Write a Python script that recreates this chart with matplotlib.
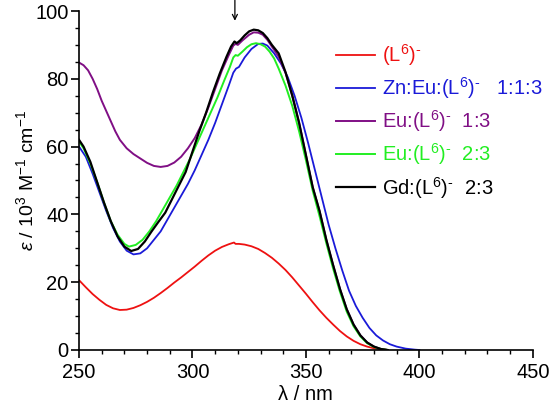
import matplotlib
matplotlib.use("Agg")
import matplotlib.pyplot as plt
from matplotlib.ticker import MultipleLocator

plt.rcParams['font.family'] = ['Liberation Sans', 'DejaVu Sans']
plt.rcParams['mathtext.fontset'] = 'custom'
plt.rcParams['mathtext.rm'] = 'Liberation Sans'
plt.rcParams['mathtext.it'] = 'Liberation Sans:italic'

# ---- data ----
red_x = [250, 253, 256, 259, 262, 265, 268, 271, 274, 277, 280, 283, 286, 289, 292, 295, 298, 301, 304, 307,
         310, 313, 316, 318.3, 319, 320.5, 323, 326, 329, 332, 335, 338, 341, 344, 347, 350, 353, 356, 359,
         362, 365, 368, 371, 374, 377, 380, 383, 386]
red_y = [20.6, 18.5, 16.5, 14.8, 13.3, 12.3, 11.8, 11.9, 12.4, 13.2, 14.2, 15.4, 16.8, 18.3, 19.9, 21.4, 23.0,
         24.6, 26.3, 27.9, 29.3, 30.4, 31.2, 31.7, 31.3, 31.3, 31.1, 30.6, 29.8, 28.6, 27.2, 25.5, 23.6, 21.4,
         19.0, 16.6, 14.1, 11.7, 9.5, 7.5, 5.6, 4.0, 2.7, 1.7, 1.0, 0.5, 0.2, 0.0]

blue_x = [250, 253, 256, 259, 262, 265, 268, 271, 274, 277, 280, 283, 286, 289, 292, 295, 298, 301, 304, 307,
          310, 313, 316, 318, 319.2, 320.5, 323, 326, 329, 331, 333, 336, 339, 342, 345, 348, 351, 354, 357,
          360, 363, 366, 369, 372, 375, 378, 381, 384, 387, 390, 394, 398, 400]
blue_y = [60, 57, 52, 46.5, 41, 36, 32, 29.3, 28.2, 28.5, 30, 32.5, 35, 38.5, 42, 45.5, 49, 53, 57.5, 62,
          67, 72.5, 78, 81.8, 83, 83.5, 86.3, 88.8, 90.3, 90.4, 89.8, 87.5, 84.5, 80.5, 75, 68.5, 61, 53, 45,
          37, 30, 23.5, 17.5, 13, 9.5, 6.5, 4.3, 2.8, 1.7, 1.0, 0.4, 0.1, 0.0]

purple_x = [250, 252, 254, 256, 258, 260, 262, 264, 266, 268, 271, 274, 277, 280, 283, 286, 289, 292, 295, 298,
            301, 304, 307, 310, 313, 316, 318, 319, 320, 322, 325, 327, 329, 331, 333, 335, 338, 341, 344, 347,
            350, 353, 356, 359, 362, 365, 368, 371, 374, 377, 380, 383, 386]
purple_y = [84.8, 84, 82.5, 80, 77, 73.5, 70.5, 67.5, 64.5, 62, 59.5, 57.8, 56.5, 55.2, 54.3, 54, 54.3, 55.3,
            57, 59.5, 62.5, 66.5, 71.5, 77, 82.5, 87, 89.8, 90.3, 90, 91.3, 93, 93.7, 93.6, 93, 91.5, 89.5,
            86.5, 81.8, 75, 67, 57.5, 48, 41, 32.5, 25, 18, 12, 7.5, 4.3, 2.2, 1.0, 0.3, 0.0]

green_x = [250, 252, 255, 258, 261, 264, 267, 270, 272, 275, 278, 281, 284, 287, 290, 293, 296, 299, 302, 305,
           308, 311, 314, 316.5, 318, 319, 320, 322, 324, 326, 328, 330, 332, 334, 336, 338, 341, 344, 347,
           350, 353, 356, 359, 362, 365, 368, 371, 374, 377, 380, 383, 386]
green_y = [61.5, 59.5, 55, 49.5, 43.5, 38, 34, 31.3, 30.5, 31, 32.5, 35, 38, 41.5, 45, 48.5, 52.5, 56.5, 61,
           65.5, 70, 74.5, 79.5, 83.5, 86.3, 87, 86.8, 88, 89.3, 90.2, 90.5, 90.2, 89.5, 88, 86, 83, 78, 72,
           64.5, 56, 47, 39.5, 31.5, 24, 17.2, 11.3, 7, 4, 2, 0.9, 0.3, 0.0]

black_x = [250, 252, 255, 258, 261, 264, 267, 270, 273, 276, 279, 282, 285, 288, 291, 294, 297, 300, 303, 306,
           309, 312, 315, 317, 318.5, 319.5, 321, 323, 325, 327, 329, 331, 333, 335, 338, 341, 344, 347, 350,
           353, 356, 359, 362, 365, 368, 371, 374, 377, 380, 383, 386]
black_y = [62, 60, 55.5, 49.5, 43.5, 38, 33.5, 30.5, 29.2, 29.8, 32, 35, 37.8, 40.5, 44.5, 48.5, 52.5, 58.5,
           64.5, 70, 76, 81.5, 86.5, 89.5, 91, 90.5, 91.3, 92.8, 94, 94.5, 94.3, 93.5, 92, 90, 87.5, 82, 75,
           67, 57.5, 48, 41, 32.5, 25, 18, 12, 7.5, 4.3, 2.2, 1.0, 0.3, 0.0]

labels = [r'(L$^{6}$)$^{\text{-}}$',
          r'Zn:Eu:(L$^{6}$)$^{\text{-}}$   1:1:3',
          r'Eu:(L$^{6}$)$^{\text{-}}$  1:3',
          r'Eu:(L$^{6}$)$^{\text{-}}$  2:3',
          r'Gd:(L$^{6}$)$^{\text{-}}$  2:3']
colors = ['#ee1111', '#1a1ad8', '#800f85', '#22ee22', '#000000']

arrow_x = 318.7

# ---- figure ----
fig = plt.figure(figsize=(5.51, 4.12), dpi=100)
ax = fig.add_axes([0.1434, 0.1505, 0.8236, 0.8228])

series = [(red_x, red_y), (blue_x, blue_y), (purple_x, purple_y), (green_x, green_y), (black_x, black_y)]
widths = [1.3, 1.3, 1.4, 1.4, 1.6]
for (xs, ys), lab, c, w in zip(series, labels, colors, widths):
    ax.plot(xs, ys, color=c, lw=w, label=lab)

ax.set_xlim(250, 450)
ax.set_ylim(0, 100)
ax.xaxis.set_major_locator(MultipleLocator(50))
ax.xaxis.set_minor_locator(MultipleLocator(10))
ax.yaxis.set_major_locator(MultipleLocator(20))
ax.yaxis.set_minor_locator(MultipleLocator(5))
for s in ['top', 'right']:
    ax.spines[s].set_visible(False)
for s in ['left', 'bottom']:
    ax.spines[s].set_linewidth(1.2)
ax.tick_params(axis='x', which='major', direction='out', length=5.5, width=1.2, labelsize=14.5, pad=4)
ax.tick_params(axis='y', which='major', direction='out', length=5.5, width=1.2, labelsize=14.5, pad=2)
ax.tick_params(which='minor', direction='out', length=3, width=1.0)

ax.set_xlabel('λ / nm', fontsize=14.5, labelpad=2)
ax.set_ylabel(r'$\mathit{\varepsilon}$ / 10$^{3}$ M$^{-1}$ cm$^{-1}$', fontsize=14, labelpad=-1)

ax.annotate('', xy=(arrow_x, 96.3), xytext=(arrow_x, 104),
            arrowprops=dict(arrowstyle='->', lw=0.9, color='black', mutation_scale=9),
            annotation_clip=False)

leg = ax.legend(loc='upper left', bbox_to_anchor=(0.545, 0.938), frameon=False, fontsize=14.5,
                handlelength=1.9, handletextpad=0.35, labelspacing=0.36, borderpad=0,
                labelcolor='linecolor')

fig.savefig('out.png', dpi=100)
